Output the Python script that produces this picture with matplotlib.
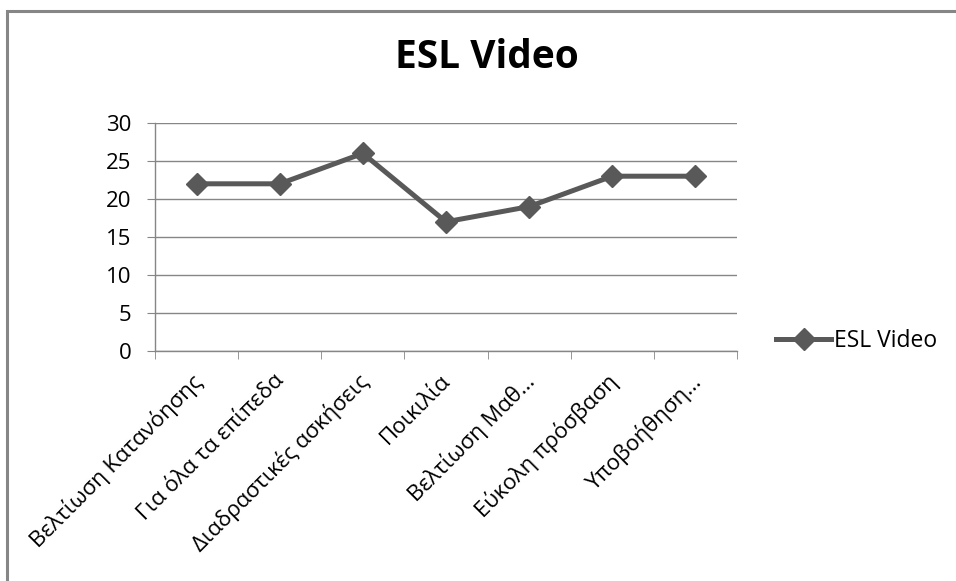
import matplotlib
matplotlib.use("Agg")
import matplotlib.pyplot as plt
from matplotlib.patches import Rectangle
import matplotlib.transforms as mtransforms
import numpy as np

categories = ["Βελτίωση Κατανόησης", "Για όλα τα επίπεδα", "Διαδραστικές ασκήσεις",
              "Ποικιλία", "Βελτίωση Μαθ…", "Εύκολη πρόσβαση", "Υποβοήθηση…"]
values = [22, 22, 26, 17, 19, 23, 23]
series_name = "ESL Video"
yticks = [0, 5, 10, 15, 20, 25, 30]

plt.rcParams['font.family'] = ['Open Sans', 'DejaVu Sans']

W, H = 956, 581
fig = plt.figure(figsize=(W/100, H/100), dpi=100)
fig.patches.append(Rectangle((7/W, -0.1), 1.2, 1 + 0.1 - 10.5/H, transform=fig.transFigure,
                             fill=False, edgecolor='#868686', linewidth=2.2))

ax = fig.add_axes([155/W, 1 - 351/H, (737-155)/W, (351-123)/H])
x = np.arange(len(categories))
line_color = '#595959'
ax.plot(x, values, color=line_color, linewidth=3.6, marker='D', markersize=11,
        markerfacecolor=line_color, markeredgecolor=line_color, label=series_name)

ax.set_xlim(-0.5, len(categories) - 0.5)
ax.set_ylim(0, 30)
ax.set_yticks(yticks)
ax.set_yticklabels([str(v) for v in yticks], fontsize=16)
ax.grid(axis='y', color='#868686', linewidth=1.0)
ax.set_axisbelow(True)
for s in ['top', 'right']:
    ax.spines[s].set_visible(False)
for s in ['left', 'bottom']:
    ax.spines[s].set_color('#868686')
    ax.spines[s].set_linewidth(1.0)
ax.tick_params(axis='y', length=6, color='#868686', pad=11)

ax.set_xticks(x)
ax.set_xticklabels(categories, fontsize=16, rotation=45, ha='right', va='top',
                   rotation_mode='anchor')
ax.tick_params(axis='x', which='major', length=0, pad=14)
offset = mtransforms.ScaledTranslation(-6/100, 0, fig.dpi_scale_trans)
for lbl in ax.get_xticklabels():
    lbl.set_transform(lbl.get_transform() + offset)
ax.set_xticks(np.arange(-0.5, len(categories), 1.0), minor=True)
ax.tick_params(axis='x', which='minor', length=6, color='#868686')

fig.text(487/W, 1 - 57/H, "ESL Video", fontsize=28, fontweight='bold',
         ha='center', va='center')

leg = ax.legend(loc='center left', bbox_to_anchor=(776/W, 1 - 341/H),
                bbox_transform=fig.transFigure, frameon=False, fontsize=16.5,
                handlelength=2.4, handletextpad=0.15, borderpad=0, borderaxespad=0)

fig.savefig("out.png", dpi=100)
